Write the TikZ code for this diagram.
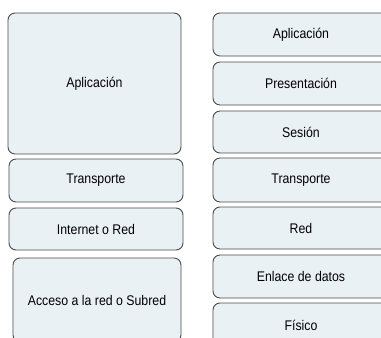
\documentclass[tikz,border=0pt]{standalone}
\usepackage{fontspec}
\setmainfont[FakeStretch=0.88]{Liberation Sans}
\definecolor{boxfill}{HTML}{EAF1F4}
\definecolor{boxline}{HTML}{4A4A4A}
\begin{document}
\begin{tikzpicture}[x=1pt,y=-1pt,
  layer/.style={draw=boxline,fill=boxfill,line width=0.9pt,rounded corners=7pt,
    rectangle,inner sep=0pt,font=\fontsize{14}{16}\selectfont}]
\useasboundingbox (0,0) rectangle (381,338);
\clip (0,0) rectangle (381,338);
\fill[white] (0,0) rectangle (381,338);
% left column
\node[layer,minimum width=173pt,minimum height=141pt] (l1) at (94.5,83.5) {Aplicación};
\node[layer,minimum width=174pt,minimum height=43pt] (l2) at (96,180.5) {Transporte};
\node[layer,minimum width=174pt,minimum height=42pt] (l3) at (96,229) {Internet o Red};
\node[layer,minimum width=168pt,minimum height=84pt] (l4) at (97,300) {Acceso a la red o Subred};
% right column
\node[layer,minimum width=176pt,minimum height=43pt] (r1) at (301,34.5) {Aplicación};
\node[layer,minimum width=176pt,minimum height=43pt] (r2) at (301,83.5) {Presentación};
\node[layer,minimum width=176pt,minimum height=42pt] (r3) at (301,132) {Sesión};
\node[layer,minimum width=176pt,minimum height=44pt] (r4) at (301,180) {Transporte};
\node[layer,minimum width=176pt,minimum height=42pt] (r5) at (301,228) {Red};
\node[layer,minimum width=176pt,minimum height=43pt] (r6) at (301,276.5) {Enlace de datos};
\node[layer,minimum width=176pt,minimum height=44pt] (r7) at (301,325) {Físico};
\end{tikzpicture}
\end{document}
